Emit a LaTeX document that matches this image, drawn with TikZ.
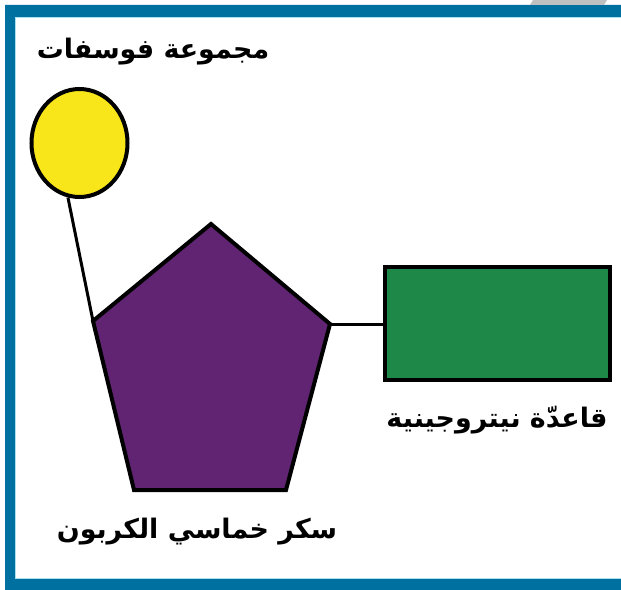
\documentclass[tikz,border=0pt]{standalone}
\usepackage{fontspec}
\usetikzlibrary{shapes.geometric}
\newfontfamily\arabicfont[Script=Arabic]{DejaVu Sans}
\TeXXeTstate=1
\definecolor{frameblue}{RGB}{0,112,160}
\definecolor{framecyan}{RGB}{170,225,240}
\definecolor{sugarpurple}{RGB}{96,36,114}
\definecolor{basegreen}{RGB}{30,136,72}
\definecolor{phosyellow}{RGB}{248,230,26}
\definecolor{curlgray}{RGB}{192,192,192}
\tikzset{
  lbl/.style={font=\arabicfont\bfseries\fontsize{27}{30}\selectfont, inner sep=0pt},
  link/.style={draw=black, line width=3bp},
}
\begin{document}
\begin{tikzpicture}[x=1bp,y=-1bp]
\useasboundingbox (0,0) rectangle (621,590);
\fill[white] (0,0) rectangle (621,590);
% frame
\fill[frameblue, even odd rule] (5,5) rectangle (621,590) (15,17) rectangle (621,579);
\draw[framecyan, line width=1.2bp] (621,17.6) -- (15.6,17.6) -- (15.6,578.4) -- (621,578.4);
\fill[curlgray] (533,0) -- (607,0) -- (604,5) -- (530,5) -- cycle;
% pentagon (sugar)
\coordinate (pt) at (211,224);
\coordinate (pr) at (330,324);
\coordinate (pbr) at (286,490);
\coordinate (pbl) at (134,490);
\coordinate (pl) at (93,321);
\filldraw[fill=sugarpurple, draw=black, line width=4bp, line join=miter]
  (pt) -- (pr) -- (pbr) -- (pbl) -- (pl) -- cycle;
% phosphate
\node[ellipse, draw=black, fill=phosyellow, line width=4bp, minimum width=96bp, minimum height=108bp, inner sep=0pt] (phos) at (79.5,143) {};
% base
\node[rectangle, draw=black, fill=basegreen, line width=4.5bp, minimum width=225bp, minimum height=113bp, inner sep=0pt] (base) at (497.5,323.5) {};
% connectors
\draw[link] (phos.258) -- (pl);
\draw[link] (pr) -- (base.west |- pr);
% labels
\node[lbl] (tphos) at (153,52) {\beginR مجموعة فوسفات\endR};
\node[lbl] (tbase) at (497,420) {\beginR قاعدّة نيتروجينية\endR};
\node[lbl] (tsugar) at (197,532) {\beginR سكر خماسي الكربون\endR};
\end{tikzpicture}
\end{document}
